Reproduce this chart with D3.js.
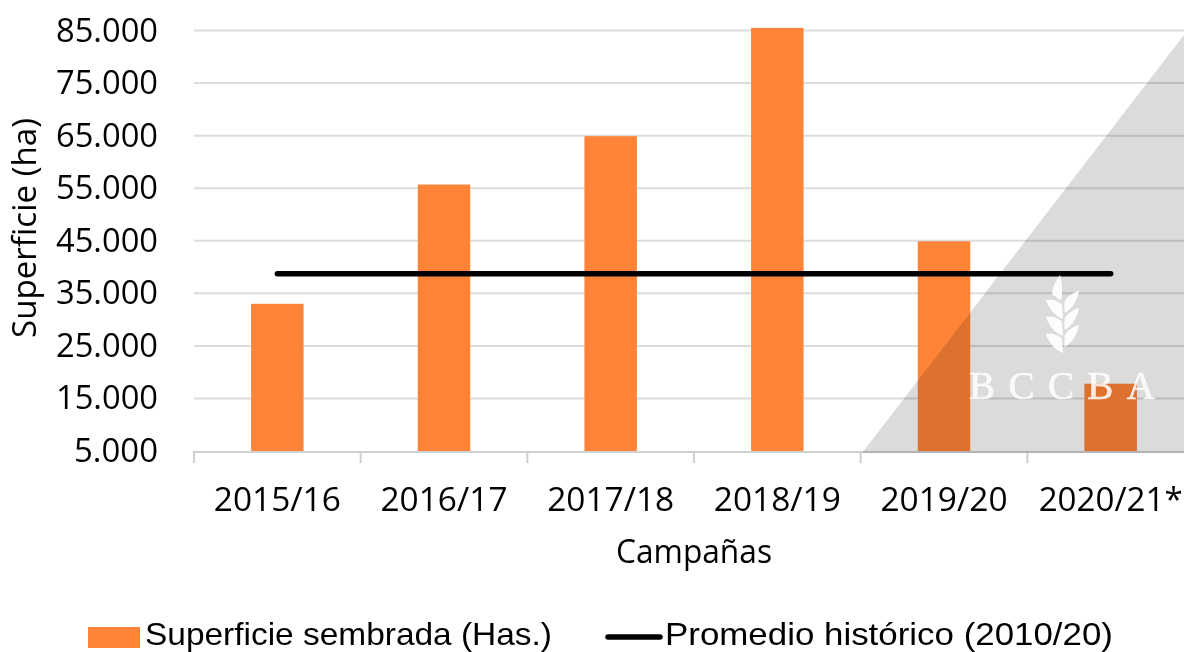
<!DOCTYPE html>
<html><head><meta charset="utf-8">
<script src="https://cdn.jsdelivr.net/npm/d3@7"></script>
<style>
html,body{margin:0;padding:0;background:#fff;overflow:hidden}
svg{display:block}
text{font-family:"Open Sans",sans-serif;fill:#000}
</style></head><body><div id="c"></div>
<script>
const categories=["2015/16","2016/17","2017/18","2018/19","2019/20","2020/21*"];
const superficie=[33000,55700,64900,85500,44900,17800];
const promedio=[38700,38700,38700,38700,38700,38700];
const yTicks=[5000,15000,25000,35000,45000,55000,65000,75000,85000];
const seriesNames=["Superficie sembrada (Has.)","Promedio histórico (2010/20)"];
const W=1184,H=652,barW=52.5,fs="32px";
const svg=d3.select("#c").append("svg").attr("width",W).attr("height",H);
const x=d3.scaleBand().domain(categories).range([194,1194]);
const cx=c=>x(c)+x.bandwidth()/2;
const y=d3.scaleLinear().domain([5000,85000]).range([451,30.5]);
const fmt=v=>d3.format(",")(v).replace(/,/g,".");
// grid
svg.append("g").selectAll("line").data(yTicks.slice(1)).join("line")
 .attr("x1",194).attr("x2",W).attr("y1",d=>y(d)).attr("y2",d=>y(d))
 .attr("stroke","#dcdcdc").attr("stroke-width",2);
// axis
svg.append("line").attr("x1",194).attr("x2",W).attr("y1",y(5000)+1).attr("y2",y(5000)+1).attr("stroke","#d0d0d0").attr("stroke-width",2);
svg.append("g").selectAll("line").data(categories).join("line")
 .attr("x1",d=>x(d)).attr("x2",d=>x(d)).attr("y1",451).attr("y2",463).attr("stroke","#d0d0d0").attr("stroke-width",2);
// bars
svg.append("g").selectAll("rect").data(superficie).join("rect")
 .attr("x",(d,i)=>cx(categories[i])-barW/2).attr("width",barW)
 .attr("y",d=>y(d)).attr("height",d=>y(5000)-y(d)).attr("fill","#ff8437");
// line
const line=d3.line().x((d,i)=>cx(categories[i])).y(d=>y(d));
svg.append("path").datum(promedio).attr("d",line).attr("fill","none").attr("stroke","#000").attr("stroke-width",5.5).attr("stroke-linecap","round");
// watermark triangle
svg.append("path").attr("d",`M862,453 L${W},35 L${W},453 Z`).attr("fill","#dddbda").style("mix-blend-mode","multiply");
// wheat
const wheat=svg.append("g").attr("fill","#fff").attr("opacity",0.97);
wheat.append("path").attr("d","M1060,275 C1052,287 1051,293 1053,295 L1061,300 C1063,292 1062,283 1060,275 Z");
[0,17,34].forEach(d=>{
 wheat.append("path").attr("transform",`translate(0,${d})`).attr("d","M1046,300 C1052,299 1059,301 1062,305 L1063,319 C1055,316 1049,309 1046,300 Z");
 wheat.append("path").attr("transform",`translate(0,${d})`).attr("d","M1079,291 C1073,293 1066,297 1064.5,302 L1064.5,313 C1072,309 1077,301 1079,291 Z");
});
svg.append("text").text("BCCBA").attr("x",969).attr("y",398.5)
 .style("font-family","'Liberation Serif',serif").style("font-size","39px").style("fill","#fff").style("stroke","#fff").style("stroke-width",0.7).attr("opacity",0.85)
 .attr("textLength",186).attr("lengthAdjust","spacing");
// y tick labels
svg.append("g").selectAll("text").data(yTicks).join("text").text(fmt)
 .attr("x",158).attr("y",d=>y(d)+11).attr("text-anchor","end").style("font-size",fs)
 .attr("textLength",d=>d<10000?84:102).attr("lengthAdjust","spacingAndGlyphs");
// x labels
svg.append("g").selectAll("text").data(categories).join("text").text(d=>d)
 .attr("x",cx).attr("y",511).attr("text-anchor","middle").style("font-size",fs)
 .attr("textLength",(d,i)=>i==5?144:127).attr("lengthAdjust","spacingAndGlyphs");
// titles
svg.append("text").text("Campañas").attr("x",694).attr("y",563).attr("text-anchor","middle").style("font-size",fs).attr("textLength",156).attr("lengthAdjust","spacingAndGlyphs");
svg.append("text").text("Superficie (ha)").attr("transform","translate(36,228) rotate(-90)").attr("text-anchor","middle").style("font-size",fs).attr("textLength",220).attr("lengthAdjust","spacingAndGlyphs");
// legend
const lg=svg.append("g").style("font-size","30.5px");
lg.append("rect").attr("x",88).attr("y",627).attr("width",52).attr("height",21).attr("fill","#ff8437");
lg.append("text").text(seriesNames[0]).attr("x",145).attr("y",645).style("font-family","'Liberation Sans',sans-serif").attr("textLength",407).attr("lengthAdjust","spacingAndGlyphs");
lg.append("line").attr("x1",608).attr("x2",660).attr("y1",637).attr("y2",637).attr("stroke","#000").attr("stroke-width",5.5).attr("stroke-linecap","round");
lg.append("text").text(seriesNames[1]).attr("x",665).attr("y",645).style("font-family","'Liberation Sans',sans-serif").attr("textLength",448).attr("lengthAdjust","spacingAndGlyphs");
</script></body></html>
